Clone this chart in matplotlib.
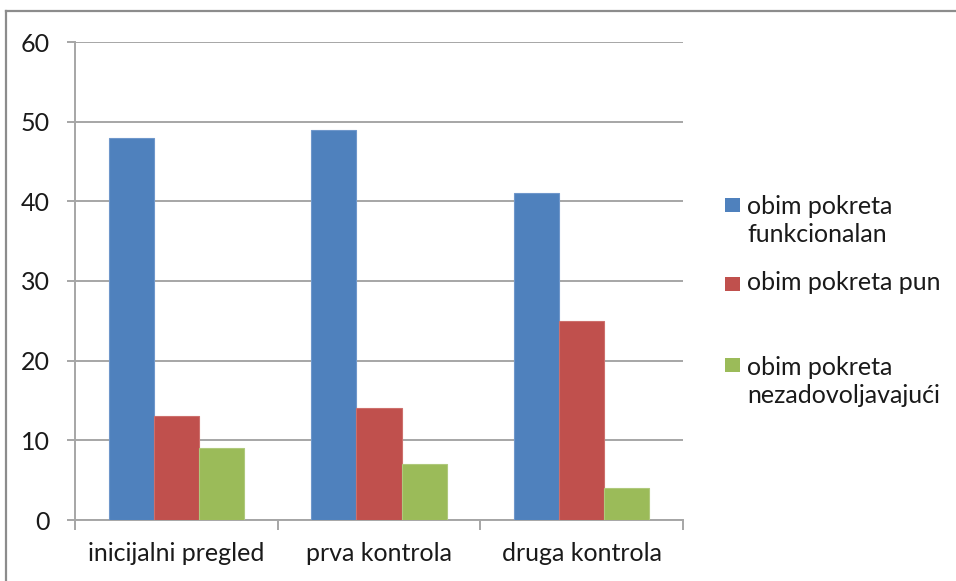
import matplotlib
matplotlib.use("Agg")
import matplotlib.pyplot as plt
from matplotlib.patches import Rectangle
from matplotlib.lines import Line2D
import numpy as np

plt.rcParams['font.family'] = ['Lato', 'DejaVu Sans']

categories = ["inicijalni pregled", "prva kontrola", "druga kontrola"]
series_names = ["obim pokreta\nfunkcionalan", "obim pokreta pun", "obim pokreta\nnezadovoljavajući"]
funkcionalan = [48, 49, 41]
pun = [13, 14, 25]
nezadovoljavajuci = [9, 7, 4]
y_ticks = [0, 10, 20, 30, 40, 50, 60]

colors = ["#4F81BD", "#C0504D", "#9BBB59"]
edges = ["#6F97CB", "#CD6F6C", "#AFC97C"]
grid_c = "#A6A6A6"
text_c = "#1A1A1A"
fs = 18

W, H = 956, 581
fig = plt.figure(figsize=(W / 100, H / 100), dpi=100)
ax = fig.add_axes([75 / W, 1 - 520 / H, (683 - 75) / W, (520 - 42) / H])

x = np.arange(len(categories))
bw = 1 / 4.5
data = [funkcionalan, pun, nezadovoljavajuci]
for i, vals in enumerate(data):
    ax.bar(x + (i - 1) * bw, vals, width=bw, color=colors[i],
           edgecolor=edges[i], linewidth=0.8, zorder=3)

ax.set_xlim(-0.5, len(categories) - 0.5)
ax.set_ylim(0, 60)
ax.set_yticks(y_ticks)
ax.yaxis.grid(True, color=grid_c, linewidth=1.4, zorder=0)
ax.set_axisbelow(True)

for s in ["top", "right"]:
    ax.spines[s].set_visible(False)
for s in ["left", "bottom"]:
    ax.spines[s].set_color(grid_c)
    ax.spines[s].set_linewidth(1.4)

ax.tick_params(axis="y", length=6, width=1.4, color=grid_c, pad=12,
               labelsize=fs, labelcolor=text_c)
ax.set_xticks(x)
ax.set_xticklabels(categories)
ax.tick_params(axis="x", which="major", length=0, pad=16,
               labelsize=fs, labelcolor=text_c)
ax.set_xticks(np.arange(-0.5, len(categories), 1.0), minor=True)
ax.tick_params(axis="x", which="minor", length=7, width=1.4, color=grid_c)

# legend drawn in figure pixels: (square centre, baseline of first line)
line_step = 31
legend_pos = [(205, 211), (283.5, 290), (365, 372)]
for name, c, (sq, base) in zip(series_names, colors, legend_pos):
    fig.patches.append(Rectangle((725 / W, 1 - (sq + 7) / H), 15 / W, 14 / H,
                                 transform=fig.transFigure, facecolor=c,
                                 edgecolor="none"))
    last_base = base + line_step * name.count("\n")
    fig.text(747 / W, 1 - last_base / H, name, fontsize=fs, color=text_c,
             ha="left", va="baseline", linespacing=1.28)

# chart frame
fig.add_artist(Line2D([6 / W, 6 / W], [0, 1 - 11 / H], transform=fig.transFigure,
                      color="#8C8C8C", linewidth=1.6))
fig.add_artist(Line2D([6 / W, 1], [1 - 11 / H, 1 - 11 / H], transform=fig.transFigure,
                      color="#8C8C8C", linewidth=1.6))

fig.savefig("out.png", dpi=100)
